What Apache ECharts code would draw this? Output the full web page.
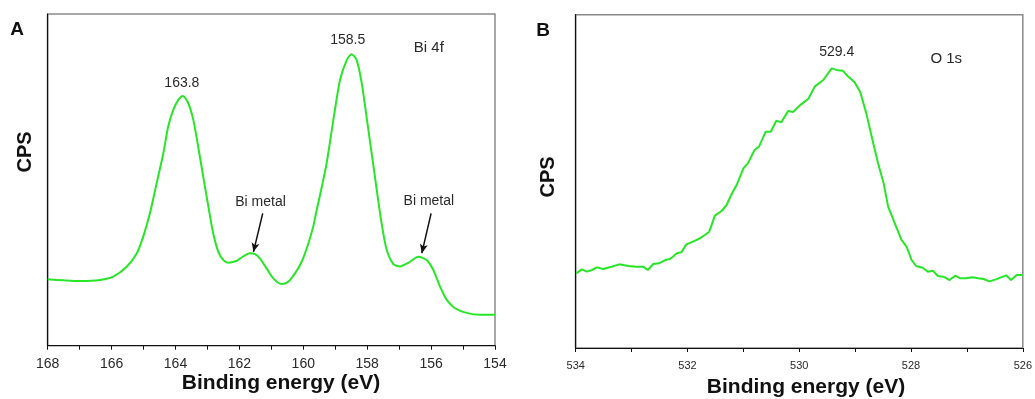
<!DOCTYPE html>
<html>
<head>
<meta charset="utf-8">
<script src="https://cdn.jsdelivr.net/npm/echarts@6/dist/echarts.min.js"></script>
<style>html,body{margin:0;padding:0;background:#fff}#c{width:1035px;height:399px}</style>
</head>
<body>
<div id="c"></div>
<script>
// ---- Panel A: Bi 4f ----
var biEnergy = [168.00,167.49,166.99,166.36,165.95,165.53,165.21,165.01,164.80,164.59,164.38,164.23,164.07,163.91,163.77,163.60,163.44,163.29,163.13,162.97,162.82,162.66,162.50,162.35,162.08,161.98,161.67,161.51,161.36,161.15,160.94,160.68,160.47,160.26,160.05,159.84,159.69,159.58,159.42,159.27,159.06,158.85,158.64,158.49,158.33,158.17,158.02,157.86,157.70,157.55,157.39,157.18,156.97,156.71,156.40,156.14,155.93,155.72,155.51,155.25,154.89,154.47,154.05,154.00];
var biCps = [20.0,19.7,19.5,19.8,20.8,23.8,27.9,32.9,39.9,49.0,58.0,66.0,71.1,74.1,75.3,73.1,68.0,60.0,50.9,41.9,33.9,28.3,25.8,25.0,25.6,26.3,27.9,27.6,26.3,23.3,20.3,18.6,19.3,21.8,25.3,30.9,35.9,40.9,47.9,55.0,68.0,80.1,86.1,87.9,86.1,79.1,69.0,58.0,46.9,36.9,28.9,24.6,23.9,25.0,26.8,25.8,22.8,17.8,13.8,11.3,9.9,9.3,9.3,9.4];
var biLabels = [
  {text:'163.8', x:163.8, y:79.1},
  {text:'158.5', x:158.61, y:92.2},
  {text:'Bi 4f', x:156.07, y:89.7, size:15},
  {text:'Bi metal', x:161.34, y:43.3},
  {text:'Bi metal', x:156.07, y:43.6}
];
var biArrows = [
  [[161.27,39.9],[161.56,28.3]],
  [[156.00,39.9],[156.29,27.9]]
];

// ---- Panel B: O 1s ----
var oEnergy = [533.99,533.89,533.80,533.71,533.62,533.51,533.36,533.22,533.06,532.91,532.79,532.71,532.61,532.51,532.40,532.31,532.19,532.11,532.02,531.90,531.78,531.69,531.61,531.51,531.39,531.30,531.21,531.12,531.00,530.92,530.80,530.72,530.60,530.51,530.41,530.32,530.20,530.11,529.99,529.84,529.72,529.57,529.42,529.31,529.22,529.13,529.01,528.91,528.80,528.69,528.59,528.49,528.41,528.29,528.17,528.08,527.99,527.91,527.79,527.70,527.61,527.52,527.42,527.31,527.21,527.12,527.01,526.90,526.80,526.70,526.60,526.48,526.30,526.21,526.11,526.00];
var oCps = [22.4,23.6,22.9,23.4,24.2,23.7,24.4,25.1,24.6,24.4,24.4,23.4,25.2,25.4,26.4,26.7,28.4,28.7,31.1,31.9,32.9,33.9,34.9,39.7,41.1,42.9,46.2,48.9,53.9,55.4,59.4,60.4,64.9,64.9,68.2,67.7,71.1,70.8,72.8,74.7,78.5,80.4,83.9,83.3,83.2,81.5,79.7,76.8,70.4,62.4,55.4,49.4,42.4,37.4,32.4,30.4,26.4,24.6,24.1,22.9,23.2,21.6,21.4,20.4,21.7,20.9,20.9,21.2,20.9,20.7,20.0,20.6,21.8,20.4,21.9,21.9];
var oLabels = [
  {text:'529.4', x:529.33, y:88.9, size:14},
  {text:'O 1s', x:527.37, y:86.8, size:15}
];

var FONT = "'Liberation Sans', Arial, sans-serif";
var GREEN = '#26e626';

function zip(a, b) { return a.map(function (v, i) { return [v, b[i]]; }); }
function labelPoints(list) {
  return list.map(function (l) {
    return {
      coord: [l.x, l.y], value: l.text,
      symbol: 'circle', symbolSize: 1,
      itemStyle: {color: 'rgba(0,0,0,0)'},
      label: {show: true, position: 'inside', formatter: l.text, color: '#2a2a2a',
              fontSize: l.size || 14, fontFamily: FONT}
    };
  });
}
function arrowLines(list) {
  return list.map(function (a) { return [{coord: a[0]}, {coord: a[1]}]; });
}

function xAx(idx, min, max, fs) {
  return {
    gridIndex: idx, type: 'value', inverse: true, min: min, max: max, interval: 2,
    axisLine: {show: true, lineStyle: {color: '#111', width: 1.2}},
    axisTick: {show: true, length: 4, lineStyle: {color: '#111'}},
    minorTick: {show: true, splitNumber: 2, length: 4, lineStyle: {color: '#111'}},
    axisLabel: {color: '#2a2a2a', fontSize: fs, fontFamily: FONT, margin: fs > 12 ? 11 : 12},
    splitLine: {show: false}
  };
}
function yAx(idx) {
  return {
    gridIndex: idx, type: 'value', min: 0, max: 100,
    axisLine: {show: true, lineStyle: {color: '#111', width: 1.2}},
    axisTick: {show: false}, axisLabel: {show: false}, splitLine: {show: false}
  };
}
function txt(t, x, y, size, rot) {
  return {type: 'text', x: x, y: y, rotation: rot || 0, silent: true,
    style: {text: t, fill: '#111', font: 'bold ' + size + 'px ' + FONT,
            textAlign: 'center', textVerticalAlign: 'middle'}};
}

var chart = echarts.init(document.getElementById('c'), null, {renderer: 'canvas'});
chart.setOption({
  animation: false,
  backgroundColor: '#fff',
  grid: [
    {left: 47.7, right: 540, top: 14, bottom: 53.3, show: true, borderColor: '#8a8a8a', borderWidth: 1.5, backgroundColor: 'transparent'},
    {left: 575.7, right: 11.7, top: 14.7, bottom: 51, show: true, borderColor: '#8a8a8a', borderWidth: 1.5, backgroundColor: 'transparent'}
  ],
  xAxis: [xAx(0, 154, 168, 14), xAx(1, 526, 534, 11)],
  yAxis: [yAx(0), yAx(1)],
  series: [
    {
      type: 'line', xAxisIndex: 0, yAxisIndex: 0, data: zip(biEnergy, biCps),
      showSymbol: false, smooth: 0.25, lineStyle: {color: GREEN, width: 2}, silent: true,
      markPoint: {silent: true, data: labelPoints(biLabels)},
      markLine: {silent: true, symbol: ['none', 'arrow'], symbolSize: [6, 9],
        lineStyle: {color: '#111', width: 1.5, type: 'solid'}, label: {show: false},
        data: arrowLines(biArrows)}
    },
    {
      type: 'line', xAxisIndex: 1, yAxisIndex: 1, data: zip(oEnergy, oCps),
      showSymbol: false, smooth: false, lineStyle: {color: GREEN, width: 2}, silent: true,
      markPoint: {silent: true, data: labelPoints(oLabels)}
    }
  ],
  graphic: [
    txt('A', 17, 30, 19),
    txt('B', 543, 31, 19),
    txt('CPS', 25, 152, 20, Math.PI / 2),
    txt('CPS', 548, 177, 20, Math.PI / 2),
    txt('Binding energy (eV)', 281, 383, 21),
    txt('Binding energy (eV)', 806, 387, 21)
  ]
});
</script>
</body>
</html>
